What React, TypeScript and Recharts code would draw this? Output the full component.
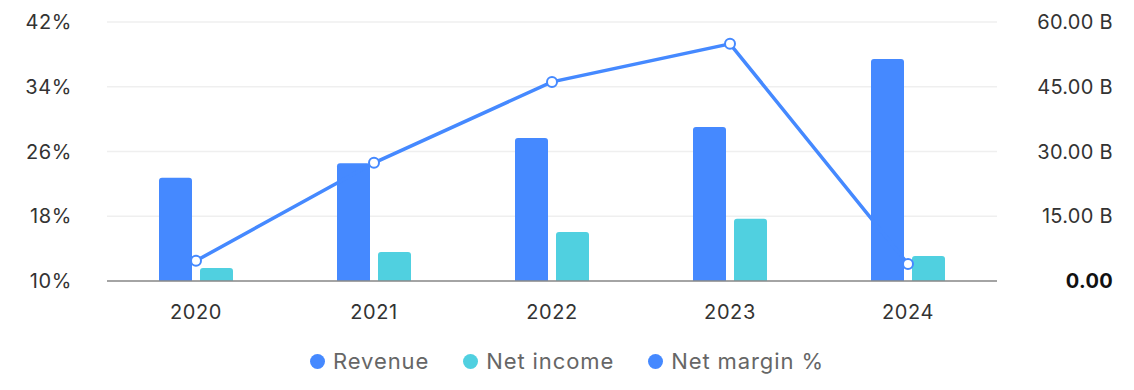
import React from "react";
import {
  ComposedChart,
  Bar,
  Line,
  XAxis,
  YAxis,
  CartesianGrid,
  Legend,
} from "recharts";

const years = ["2020", "2021", "2022", "2023", "2024"];
const revenue = [23.9, 27.3, 33.1, 35.7, 51.4];
const netIncome = [3.0, 6.7, 11.35, 14.4, 5.8];
const netMargin = [12.5, 24.6, 34.6, 39.3, 12.1];

const marginTicks = [10, 18, 26, 34, 42];
const valueTicks = [0, 15, 30, 45, 60];

const data = years.map((y, i) => ({
  year: y,
  revenue: revenue[i],
  netIncome: netIncome[i],
  netMargin: netMargin[i],
}));

const BLUE = "#4589FF";
const CYAN = "#50D0E0";
const FONT = "Inter, 'Noto Sans', sans-serif";

const legendItems = [
  { label: "Revenue", color: BLUE },
  { label: "Net income", color: CYAN },
  { label: "Net margin %", color: BLUE },
];

const LegendContent = () => (
  <div style={{ display: "flex", justifyContent: "center", gap: 34, fontFamily: FONT }}>
    {legendItems.map((it) => (
      <div key={it.label} style={{ display: "flex", alignItems: "center", gap: 8 }}>
        <span
          style={{
            width: 15,
            height: 15,
            borderRadius: "50%",
            background: it.color,
            display: "inline-block",
          }}
        />
        <span style={{ fontSize: 22, color: "#666", letterSpacing: 0.9 }}>{it.label}</span>
      </div>
    ))}
  </div>
);

const LeftTick = (props: any) => {
  const { y, payload } = props;
  return (
    <text
      x={72}
      y={y}
      dy="0.36em"
      textAnchor="end"
      fontSize={20}
      fontFamily={FONT}
      fill="#333"
      style={{ letterSpacing: 0.6 }}
    >
      {`${payload.value}%`}
    </text>
  );
};

const RightTick = (props: any) => {
  const { y, payload } = props;
  const v = payload.value as number;
  const isZero = v === 0;
  return (
    <text
      x={1113}
      y={y}
      dy="0.36em"
      textAnchor="end"
      fontSize={20}
      fontFamily={FONT}
      fontWeight={isZero ? 700 : 400}
      fill={isZero ? "#111" : "#333"}
      style={{ letterSpacing: 0.3 }}
    >
      {isZero ? "0.00" : `${v.toFixed(2)} B`}
    </text>
  );
};

export default function App() {
  return (
    <div style={{ position: "absolute", left: 0, top: 0, background: "#fff" }}>
      <ComposedChart
        width={1134}
        height={390}
        data={data}
        margin={{ top: 22, right: 0, left: 0, bottom: 2 }}
        barSize={33}
        barGap={8}
      >
        <CartesianGrid yAxisId="left" vertical={false} stroke="#efefef" strokeWidth={1.5} />
        <XAxis
          dataKey="year"
          tickLine={false}
          axisLine={{ stroke: "#8a8a8a", strokeWidth: 1.5 }}
          tick={{ fontSize: 20, fill: "#333", fontFamily: FONT, style: { letterSpacing: 0.6 } }}
          tickMargin={18}
          height={67}
        />
        <YAxis
          yAxisId="left"
          orientation="left"
          width={107}
          domain={[10, 42]}
          ticks={marginTicks}
          axisLine={false}
          tickLine={false}
          tick={<LeftTick />}
        />
        <YAxis
          yAxisId="right"
          orientation="right"
          width={137}
          domain={[0, 60]}
          ticks={valueTicks}
          axisLine={false}
          tickLine={false}
          tick={<RightTick />}
        />
        <Legend verticalAlign="bottom" height={40} content={<LegendContent />} />
        <Line
          yAxisId="left"
          dataKey="netMargin"
          name="Net margin %"
          stroke={BLUE}
          strokeWidth={3.5}
          dot={{ r: 5, fill: "#fff", stroke: BLUE, strokeWidth: 2 }}
          isAnimationActive={false}
        />
        <Bar
          yAxisId="right"
          dataKey="revenue"
          name="Revenue"
          fill={BLUE}
          radius={[3, 3, 0, 0]}
          isAnimationActive={false}
        />
        <Bar
          yAxisId="right"
          dataKey="netIncome"
          name="Net income"
          fill={CYAN}
          radius={[3, 3, 0, 0]}
          isAnimationActive={false}
        />
      </ComposedChart>
    </div>
  );
}
